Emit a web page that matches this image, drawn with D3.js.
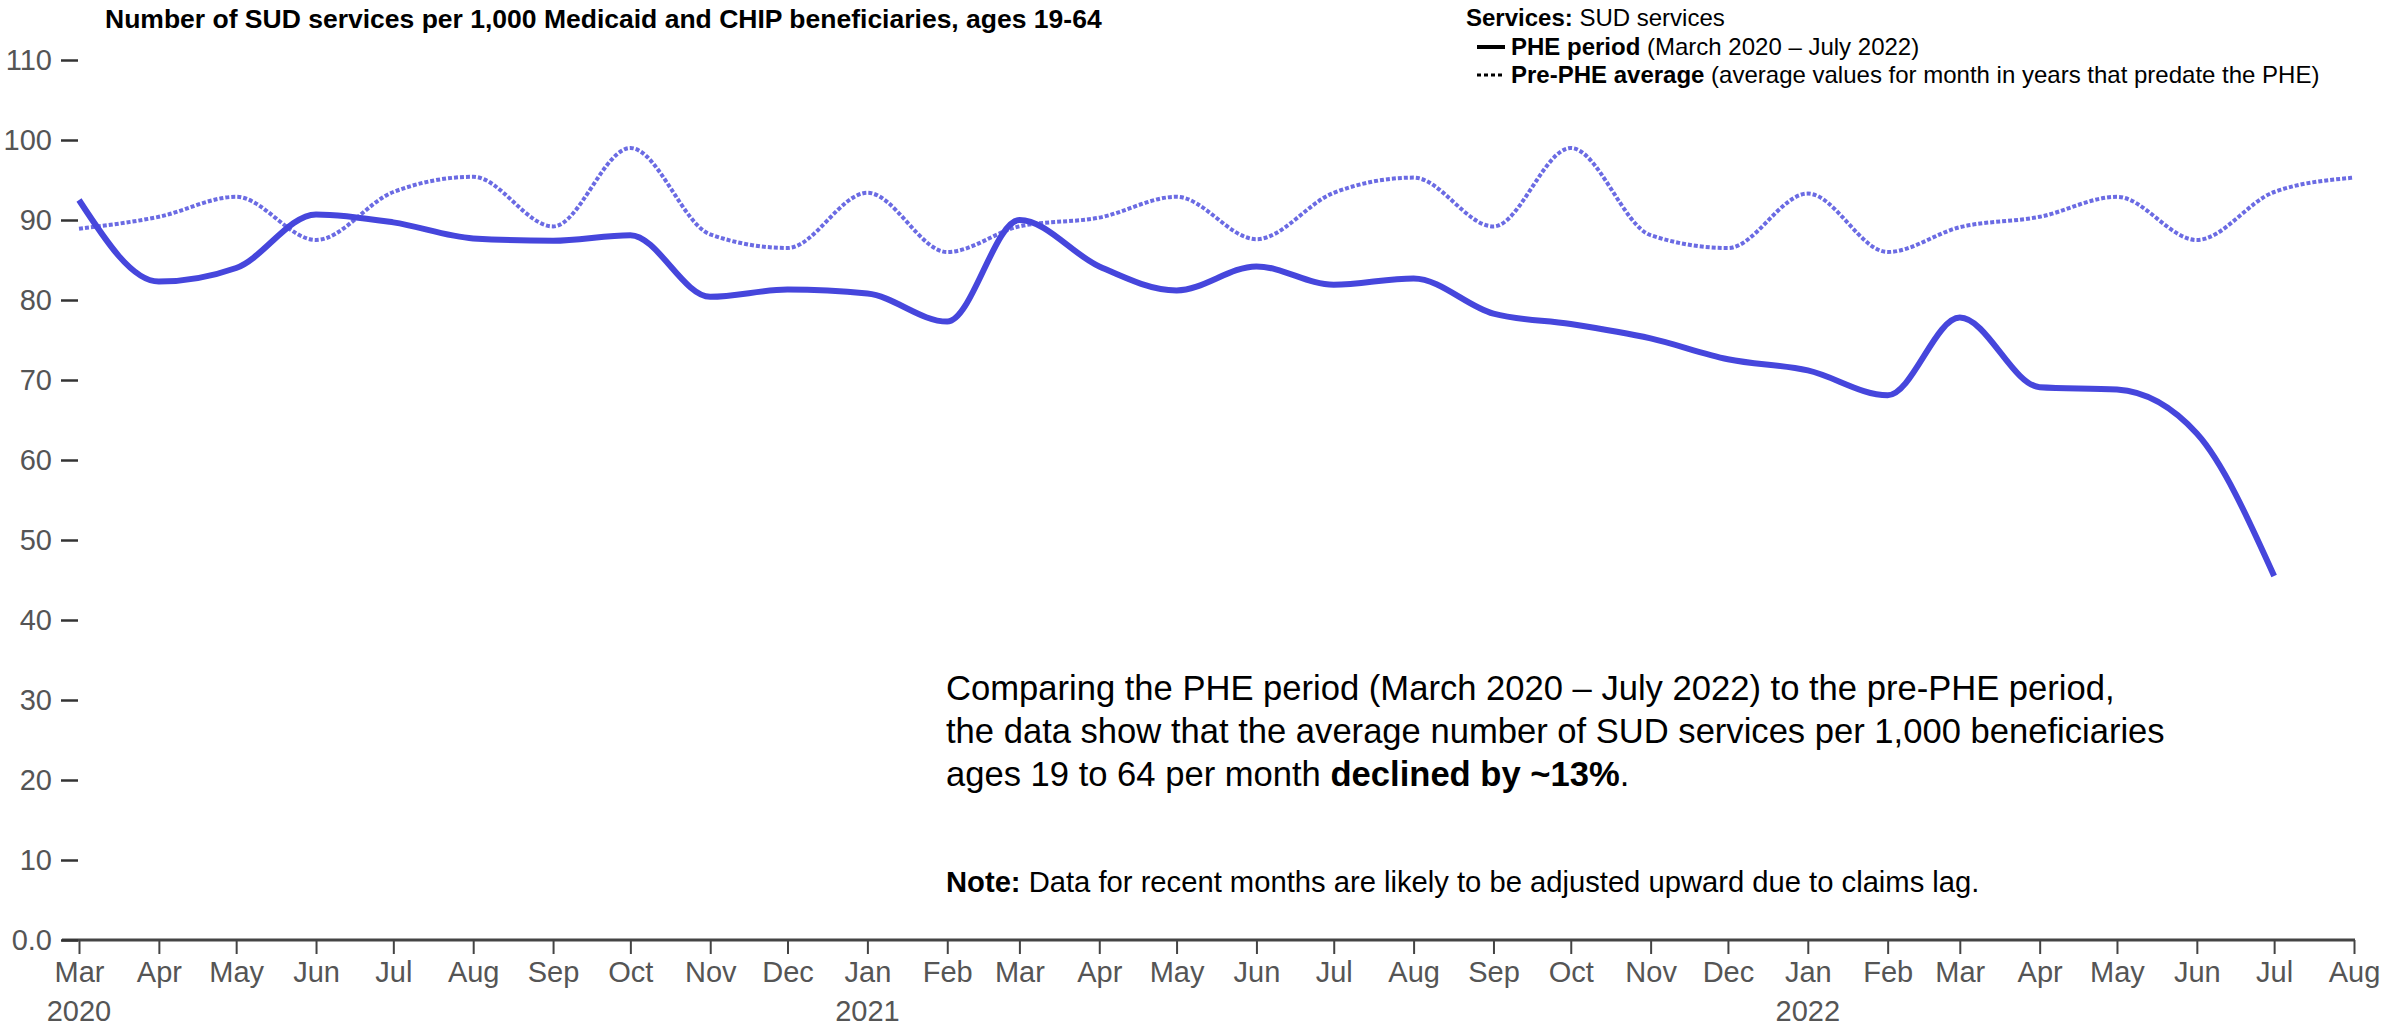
<!DOCTYPE html>
<html>
<head>
<meta charset="utf-8">
<script src="https://cdn.jsdelivr.net/npm/d3@7"></script>
<style>
  html, body { margin: 0; padding: 0; background: #fff; }
  svg { display: block; font-family: "Liberation Sans", Arial, sans-serif; }
</style>
</head>
<body>
<svg id="chart" width="2392" height="1026"></svg>
<script>
// ---- Data ----
const phePeriodMonths = ["2020-03","2020-04","2020-05","2020-06","2020-07","2020-08","2020-09","2020-10","2020-11","2020-12",
  "2021-01","2021-02","2021-03","2021-04","2021-05","2021-06","2021-07","2021-08","2021-09","2021-10","2021-11","2021-12",
  "2022-01","2022-02","2022-03","2022-04","2022-05","2022-06","2022-07"];
const pheValues = [92.5, 82.3, 84.0, 90.7, 89.7, 87.7, 87.4, 88.1, 80.4, 81.3,
  80.8, 77.3, 90.0, 84.2, 81.2, 84.2, 81.9, 82.7, 78.3, 77.0, 75.2, 72.6,
  71.2, 68.1, 77.8, 69.1, 68.8, 63.3, 45.5];

const prePheMonths = phePeriodMonths.concat(["2022-08"]);
const prePheValues = [88.9, 90.4, 92.9, 87.5, 93.5, 95.4, 89.2, 99.0, 88.2, 86.5,
  93.4, 86.0, 89.2, 90.3, 92.9, 87.6, 93.4, 95.3, 89.2, 99.0, 88.1, 86.5,
  93.3, 86.0, 89.1, 90.4, 92.9, 87.5, 93.5, 95.3];

const yTickValues = [0, 10, 20, 30, 40, 50, 60, 70, 80, 90, 100, 110];
const yearLabels = [{ date: "2020-03", label: "2020" }, { date: "2021-01", label: "2021" }, { date: "2022-01", label: "2022" }];

const titleText = "Number of SUD services per 1,000 Medicaid and CHIP beneficiaries, ages 19-64";
const annotationLines = [
  [{ t: "Comparing the PHE period (March 2020 \u2013 July 2022) to the pre-PHE period,", b: false }],
  [{ t: "the data show that the average number of SUD services per 1,000 beneficiaries", b: false }],
  [{ t: "ages 19 to 64 per month ", b: false }, { t: "declined by ~13%", b: true }, { t: ".", b: false }]
];

// ---- Setup ----
const parse = d3.timeParse("%Y-%m");
const svg = d3.select("#chart");
const lineColor = "#4646dc";
const axisColor = "#444";
const labelColor = "#555";
const tickFont = 29;

const x = d3.scaleTime()
  .domain([parse("2020-03"), parse("2022-08")])
  .range([79, 2354]);
const y = d3.scaleLinear().domain([0, 110]).range([940, 60]);

// ---- Axes ----
const xAxis = d3.axisBottom(x)
  .ticks(d3.timeMonth.every(1))
  .tickFormat(d3.timeFormat("%b"))
  .tickSize(14)
  .tickPadding(7);

const gx = svg.append("g").attr("transform", `translate(0,${y(0)})`).call(xAxis);
gx.select(".domain").remove();
gx.selectAll(".tick line").attr("stroke", axisColor).attr("stroke-width", 2);
gx.selectAll(".tick text").attr("fill", labelColor).attr("font-size", tickFont)
  .attr("font-family", "Liberation Sans, Arial, sans-serif");
svg.append("line")
  .attr("x1", 62).attr("x2", x.range()[1] + 1)
  .attr("y1", y(0)).attr("y2", y(0))
  .attr("stroke", axisColor).attr("stroke-width", 3);

svg.append("g").selectAll("text").data(yearLabels).join("text")
  .attr("x", d => x(parse(d.date)))
  .attr("y", 1021)
  .attr("text-anchor", "middle")
  .attr("font-size", tickFont)
  .attr("fill", labelColor)
  .text(d => d.label);

const yAxis = d3.axisLeft(y)
  .tickValues(yTickValues)
  .tickFormat(d => d === 0 ? "0.0" : String(d))
  .tickSize(17)
  .tickPadding(9);
const gy = svg.append("g").attr("transform", "translate(78,0)").call(yAxis);
gy.select(".domain").remove();
gy.selectAll(".tick line").attr("stroke", "#333").attr("stroke-width", 2.5);
gy.selectAll(".tick text").attr("fill", labelColor).attr("font-size", tickFont)
  .attr("font-family", "Liberation Sans, Arial, sans-serif");

// ---- Lines ----
const lineGen = d3.line()
  .x(d => x(d.date))
  .y(d => y(d.value))
  .curve(d3.curveMonotoneX);

const preData = prePheMonths.map((m, i) => ({ date: parse(m), value: prePheValues[i] }));
const pheData = phePeriodMonths.map((m, i) => ({ date: parse(m), value: pheValues[i] }));

svg.append("path").datum(preData)
  .attr("d", lineGen)
  .attr("fill", "none")
  .attr("stroke", lineColor)
  .attr("stroke-opacity", 0.8)
  .attr("stroke-width", 4)
  .attr("stroke-dasharray", "4,2");

svg.append("path").datum(pheData)
  .attr("d", lineGen)
  .attr("fill", "none")
  .attr("stroke", lineColor)
  .attr("stroke-width", 6)
  .attr("stroke-linejoin", "round");

// ---- Title ----
svg.append("text")
  .attr("x", 105).attr("y", 28)
  .attr("font-size", 26.5).attr("font-weight", "bold").attr("fill", "#000")
  .text(titleText);

// ---- Legend ----
const legFont = 24;
const leg = svg.append("g");
const l1 = leg.append("text").attr("x", 1466).attr("y", 26).attr("font-size", legFont).attr("fill", "#000");
l1.append("tspan").attr("font-weight", "bold").text("Services:");
l1.append("tspan").text(" SUD services");

leg.append("line").attr("x1", 1477).attr("x2", 1505).attr("y1", 47).attr("y2", 47)
  .attr("stroke", "#000").attr("stroke-width", 4);
const l2 = leg.append("text").attr("x", 1511).attr("y", 55).attr("font-size", legFont).attr("fill", "#000");
l2.append("tspan").attr("font-weight", "bold").text("PHE period");
l2.append("tspan").text(" (March 2020 \u2013 July 2022)");

leg.append("line").attr("x1", 1477).attr("x2", 1505).attr("y1", 75).attr("y2", 75)
  .attr("stroke", "#000").attr("stroke-width", 3).attr("stroke-dasharray", "4,3");
const l3 = leg.append("text").attr("x", 1511).attr("y", 83).attr("font-size", legFont).attr("fill", "#000");
l3.append("tspan").attr("font-weight", "bold").text("Pre-PHE average");
l3.append("tspan").text(" (average values for month in years that predate the PHE)");

// ---- Annotation ----
const annBaselines = [700, 743, 786];
annotationLines.forEach((parts, i) => {
  const t = svg.append("text").attr("x", 946).attr("y", annBaselines[i])
    .attr("font-size", 34.6).attr("fill", "#000");
  parts.forEach(p => t.append("tspan").attr("font-weight", p.b ? "bold" : "normal").text(p.t));
});
const note = svg.append("text").attr("x", 946).attr("y", 892).attr("font-size", 29.2).attr("fill", "#000");
note.append("tspan").attr("font-weight", "bold").text("Note:");
note.append("tspan").text(" Data for recent months are likely to be adjusted upward due to claims lag.");
</script>
</body>
</html>
